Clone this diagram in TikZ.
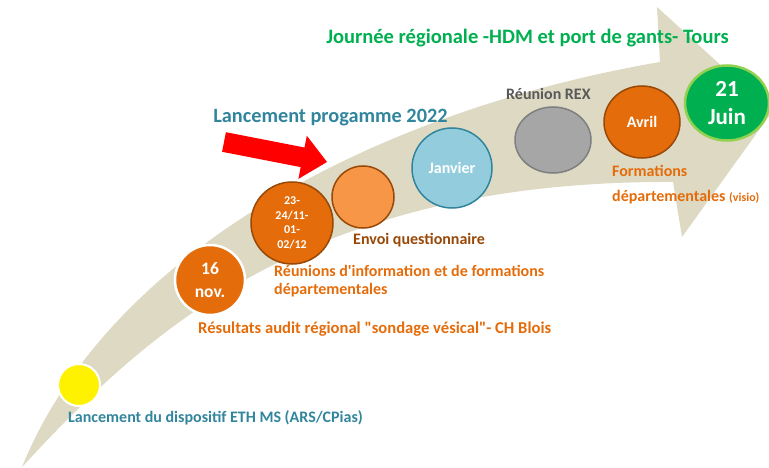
\documentclass[tikz,border=0pt]{standalone}
\usepackage{fontspec}
\setmainfont{Carlito}[Ligatures=TeXOff]
\usetikzlibrary{shapes.geometric}
\definecolor{beige}{RGB}{221,217,195}
\definecolor{orangeD}{RGB}{228,108,10}
\definecolor{orangeL}{RGB}{247,150,70}
\definecolor{brownD}{RGB}{152,72,7}
\definecolor{tealD}{RGB}{49,133,156}
\definecolor{blueL}{RGB}{147,205,221}
\definecolor{greyF}{RGB}{166,166,166}
\definecolor{greyB}{RGB}{127,127,127}
\definecolor{greyT}{RGB}{89,89,89}
\definecolor{greenD}{RGB}{0,176,80}
\definecolor{greenL}{RGB}{146,208,80}
\newcommand\px[2]{\fontsize{#1}{#2}\selectfont\bfseries}
\tikzset{
  milestone/.style={ellipse, inner sep=0pt, line width=1.5pt, text=white, align=center},
  notetext/.style={inner sep=0pt, anchor=west, align=left, font=\px{16}{18}}
}
\begin{document}
\begin{tikzpicture}[x=1pt,y=-1pt]
\useasboundingbox (0,0) rectangle (769,468);
% big curved arrow
\fill[beige] (22,467) .. controls (110,250) and (380,110) .. (660,62) -- (657,7)
  -- (772,112) -- (682,237) -- (673,182) .. controls (300,180) and (140,340) .. (22,467) -- cycle;
% red pointer
\fill[red] (225.9,132.2) -- (304.5,147.5) -- (306.8,135.7) -- (327,162)
  -- (298.4,178.9) -- (300.7,167.1) -- (222.1,151.8) -- cycle;
% milestones
\node[milestone, fill=yellow, draw=white, line width=2pt, minimum width=42, minimum height=42] (eth) at (79,385) {};
\node[milestone, fill=orangeD, draw=white, line width=2.5pt, minimum width=70, minimum height=70, font=\px{17.5}{23}] (nov) at (210,280) {16\\nov.};
\node[milestone, fill=orangeD, draw=brownD, minimum width=82, minimum height=82, font=\px{12}{14.5}] (dates) at (292,223) {23-\\24/11-\\01-\\02/12};
\node[milestone, fill=orangeL, draw=brownD, minimum width=62, minimum height=62] (envoi) at (363,197) {};
\node[milestone, fill=blueL, draw=tealD, minimum width=80, minimum height=80, font=\px{16}{18}] (janv) at (452,168) {Janvier};
\node[milestone, fill=greyF, draw=greyB, minimum width=76, minimum height=66] (rex) at (553,140) {};
\node[milestone, fill=orangeD, draw=brownD, minimum width=76, minimum height=72, font=\px{16}{18}] (avril) at (642,122) {Avril};
\node[milestone, fill=greenD, draw=greenL, line width=2.5pt, minimum width=84, minimum height=75, font=\px{23}{28}] (juin) at (727,103) {21\\Juin};
% texts
\node[inner sep=0pt, text=greenD, font=\px{20.5}{24}] (titre) at (527.5,38) {Journée régionale -HDM et port de gants- Tours};
\node[inner sep=0pt, text=tealD, font=\px{20.3}{24}] (prog) at (330.5,118) {Lancement progamme 2022};
\node[notetext, text=brownD] (envoiT) at (353,240) {Envoi questionnaire};
\node[notetext, text=orangeD] (reunT) at (274,281) {Réunions d'information et de formations\\départementales};
\node[notetext, text=orangeD, font=\px{16.6}{18}] (auditT) at (198,329) {Résultats audit régional "sondage vésical"- CH Blois};
\node[notetext, text=tealD] (ethT) at (68,418) {Lancement du dispositif ETH MS (ARS/CPias)};
\node[notetext, text=greyT] (rexT) at (506,94) {Réunion REX};
\node[notetext, text=orangeD, font=\px{16}{25}] (formT) at (612,184.5) {Formations\\départementales {\px{12}{25}(visio)}};
\end{tikzpicture}
\end{document}
